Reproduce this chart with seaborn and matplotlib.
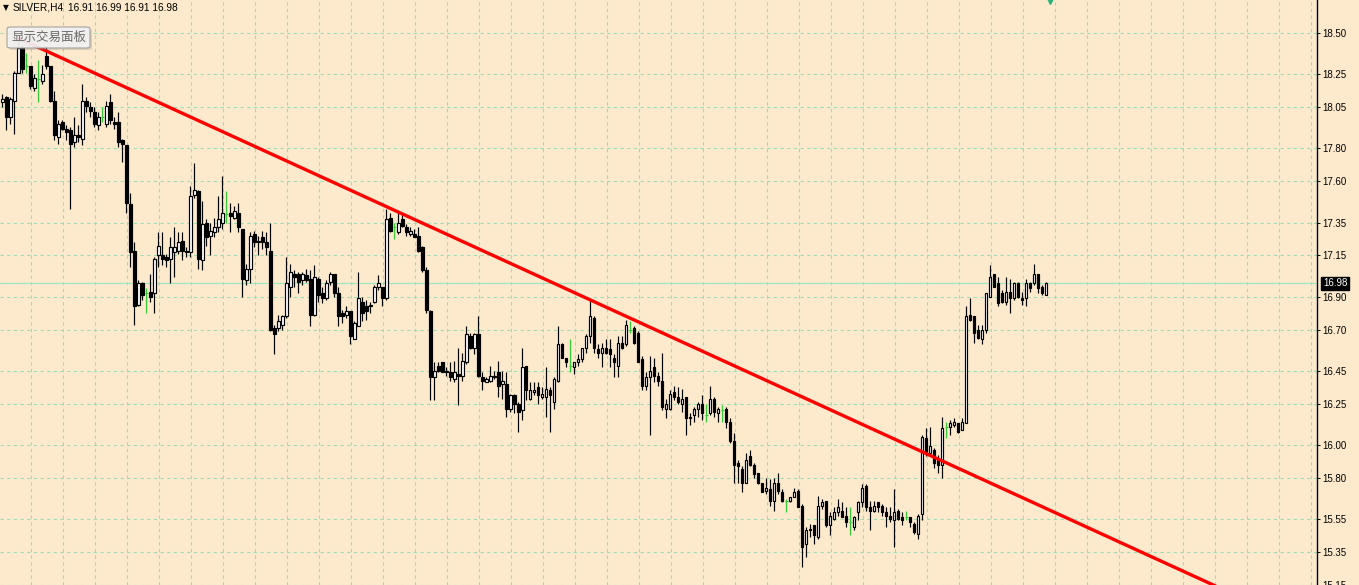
import numpy as np
import pandas as pd
import matplotlib
matplotlib.use('Agg')
import matplotlib.pyplot as plt
import seaborn as sns
from matplotlib.patches import FancyBboxPatch

# SILVER H4 candles (left to right)
opens = [18.08, 18.11, 17.99, 18.09, 18.26, 18.41, 18.30, 18.30, 18.17, 18.22,
         18.21, 18.36, 18.30, 18.09, 17.87, 17.96, 17.92, 17.91, 17.84, 17.88,
         17.86, 18.09, 18.05, 18.02, 17.94, 17.99, 17.95, 18.08, 17.96, 17.96,
         17.85, 17.82, 17.46, 17.18, 16.85, 16.98, 16.92, 16.93, 16.92, 17.15,
         17.15, 17.14, 17.13, 17.17, 17.18, 17.24, 17.18, 17.17, 17.52, 17.54,
         17.12, 17.35, 17.27, 17.29, 17.32, 17.35, 17.40, 17.41, 17.38, 17.41,
         17.31, 17.00, 17.07, 17.28, 17.23, 17.26, 17.23, 17.18, 16.71, 16.71,
         16.73, 16.78, 16.96, 17.04, 17.04, 17.00, 17.03, 17.01, 16.79, 17.01,
         16.92, 16.89, 16.99, 17.04, 16.92, 16.80, 16.79, 16.81, 16.64, 16.72,
         16.87, 16.84, 16.84, 16.87, 16.96, 16.96, 16.89, 17.38, 17.32, 17.29,
         17.37, 17.32, 17.28, 17.28, 17.27, 17.20, 17.06, 16.81, 16.41, 16.48,
         16.50, 16.44, 16.44, 16.40, 16.43, 16.42, 16.50, 16.66, 16.59, 16.67,
         16.41, 16.38, 16.39, 16.42, 16.44, 16.37, 16.37, 16.22, 16.30, 16.25,
         16.21, 16.48, 16.28, 16.32, 16.35, 16.29, 16.29, 16.33, 16.26, 16.39,
         16.61, 16.53, 16.48, 16.47, 16.50, 16.52, 16.59, 16.66, 16.77, 16.58,
         16.56, 16.59, 16.58, 16.53, 16.48, 16.62, 16.61, 16.70, 16.71, 16.68,
         16.52, 16.36, 16.41, 16.47, 16.42, 16.39, 16.22, 16.22, 16.32, 16.29,
         16.25, 16.29, 16.16, 16.18, 16.22, 16.25, 16.18, 16.19, 16.28, 16.19,
         16.21, 16.22, 16.14, 16.02, 15.89, 15.85, 15.77, 15.93, 15.88, 15.83,
         15.77, 15.72, 15.73, 15.66, 15.77, 15.71, 15.66, 15.66, 15.68, 15.72,
         15.63, 15.40, 15.48, 15.51, 15.44, 15.63, 15.66, 15.51, 15.55, 15.59,
         15.60, 15.57, 15.53, 15.50, 15.59, 15.65, 15.75, 15.62, 15.60, 15.65,
         15.63, 15.59, 15.57, 15.54, 15.60, 15.56, 15.56, 15.56, 15.52, 15.46,
         15.58, 16.04, 15.95, 15.97, 15.91, 15.88, 16.11, 16.11, 16.12, 16.13,
         16.09, 16.13, 16.79, 16.78, 16.70, 16.64, 16.70, 16.90, 17.04, 16.98,
         16.92, 16.87, 16.93, 16.89, 16.98, 16.89, 16.89, 16.98, 16.98, 17.04,
         16.96, 16.91]
highs = [18.13, 18.12, 18.11, 18.27, 18.45, 18.43, 18.38, 18.30, 18.25, 18.34,
         18.31, 18.42, 18.30, 18.15, 17.97, 17.97, 17.94, 17.93, 17.99, 17.94,
         18.19, 18.11, 18.08, 18.05, 18.02, 18.05, 18.09, 18.13, 17.99, 18.02,
         17.86, 17.82, 17.53, 17.23, 17.00, 16.99, 16.95, 17.04, 17.14, 17.29,
         17.29, 17.16, 17.26, 17.32, 17.29, 17.29, 17.20, 17.57, 17.71, 17.55,
         17.48, 17.37, 17.35, 17.38, 17.51, 17.63, 17.54, 17.47, 17.45, 17.47,
         17.31, 17.10, 17.29, 17.30, 17.27, 17.30, 17.29, 17.35, 16.73, 16.79,
         16.79, 17.14, 17.10, 17.06, 17.05, 17.05, 17.07, 17.06, 17.09, 17.02,
         16.96, 17.00, 17.05, 17.04, 16.96, 16.82, 16.84, 16.81, 16.75, 17.05,
         16.90, 16.88, 16.87, 16.97, 17.03, 16.96, 17.43, 17.41, 17.35, 17.41,
         17.40, 17.34, 17.32, 17.31, 17.32, 17.21, 17.08, 16.82, 16.50, 16.50,
         16.50, 16.47, 16.50, 16.51, 16.59, 16.56, 16.72, 16.68, 16.68, 16.78,
         16.44, 16.41, 16.48, 16.45, 16.51, 16.45, 16.44, 16.31, 16.31, 16.26,
         16.59, 16.48, 16.38, 16.38, 16.38, 16.35, 16.47, 16.35, 16.41, 16.72,
         16.62, 16.53, 16.64, 16.50, 16.55, 16.59, 16.67, 16.88, 16.78, 16.61,
         16.62, 16.64, 16.64, 16.55, 16.66, 16.66, 16.76, 16.75, 16.72, 16.69,
         16.54, 16.44, 16.54, 16.53, 16.44, 16.56, 16.28, 16.33, 16.36, 16.35,
         16.34, 16.29, 16.19, 16.23, 16.26, 16.30, 16.25, 16.36, 16.29, 16.23,
         16.24, 16.23, 16.16, 16.07, 15.91, 15.87, 15.95, 15.97, 15.89, 15.83,
         15.77, 15.80, 15.79, 15.80, 15.83, 15.73, 15.67, 15.68, 15.74, 15.73,
         15.64, 15.50, 15.52, 15.51, 15.69, 15.67, 15.66, 15.59, 15.62, 15.67,
         15.65, 15.62, 15.62, 15.57, 15.66, 15.76, 15.76, 15.66, 15.66, 15.65,
         15.64, 15.62, 15.62, 15.73, 15.61, 15.59, 15.60, 15.56, 15.53, 15.58,
         16.06, 16.10, 16.11, 15.98, 15.94, 16.17, 16.14, 16.15, 16.16, 16.13,
         16.16, 16.84, 16.89, 16.78, 16.73, 16.73, 16.92, 17.09, 17.04, 17.02,
         16.94, 17.02, 17.01, 16.99, 16.99, 16.93, 17.01, 16.99, 17.10, 17.04,
         16.97, 16.99]
lows = [18.05, 17.91, 17.95, 17.89, 18.26, 18.26, 18.26, 18.16, 18.15, 18.08,
        18.19, 18.28, 18.08, 17.85, 17.83, 17.91, 17.85, 17.43, 17.81, 17.84,
        17.82, 18.02, 17.99, 17.93, 17.91, 17.96, 17.93, 17.95, 17.92, 17.81,
        17.72, 17.41, 17.08, 16.73, 16.84, 16.88, 16.80, 16.87, 16.80, 17.08,
        17.09, 17.08, 16.98, 17.02, 17.16, 17.12, 17.14, 17.14, 17.50, 17.07,
        17.06, 17.21, 17.15, 17.26, 17.29, 17.31, 17.35, 17.29, 17.37, 17.29,
        16.90, 16.97, 16.98, 17.20, 17.15, 17.19, 17.15, 16.69, 16.55, 16.69,
        16.70, 16.77, 16.90, 16.96, 16.92, 16.97, 16.99, 16.72, 16.78, 16.87,
        16.86, 16.88, 16.97, 16.90, 16.72, 16.74, 16.77, 16.61, 16.64, 16.72,
        16.75, 16.76, 16.80, 16.86, 16.94, 16.84, 16.88, 17.29, 17.25, 17.28,
        17.32, 17.27, 17.27, 17.26, 17.17, 17.05, 16.80, 16.27, 16.27, 16.44,
        16.44, 16.42, 16.39, 16.38, 16.24, 16.39, 16.49, 16.58, 16.55, 16.41,
        16.33, 16.38, 16.38, 16.40, 16.29, 16.28, 16.17, 16.20, 16.19, 16.08,
        16.15, 16.27, 16.27, 16.30, 16.25, 16.28, 16.17, 16.08, 16.22, 16.38,
        16.53, 16.47, 16.44, 16.43, 16.48, 16.50, 16.56, 16.62, 16.56, 16.53,
        16.47, 16.55, 16.47, 16.41, 16.41, 16.58, 16.60, 16.68, 16.61, 16.50,
        16.33, 16.33, 16.06, 16.38, 16.36, 16.21, 16.16, 16.21, 16.27, 16.25,
        16.20, 16.06, 16.12, 16.14, 16.17, 16.15, 16.14, 16.18, 16.17, 16.14,
        16.14, 16.10, 16.01, 15.77, 15.77, 15.71, 15.77, 15.87, 15.80, 15.76,
        15.71, 15.70, 15.63, 15.60, 15.70, 15.65, 15.59, 15.65, 15.68, 15.62,
        15.26, 15.32, 15.44, 15.40, 15.43, 15.61, 15.50, 15.45, 15.54, 15.57,
        15.56, 15.50, 15.45, 15.48, 15.54, 15.62, 15.60, 15.48, 15.59, 15.59,
        15.57, 15.50, 15.53, 15.38, 15.54, 15.51, 15.54, 15.50, 15.46, 15.43,
        15.54, 15.93, 15.93, 15.86, 15.83, 15.80, 16.04, 16.06, 16.11, 16.07,
        16.09, 16.13, 16.75, 16.62, 16.64, 16.61, 16.68, 16.90, 16.96, 16.84,
        16.86, 16.85, 16.80, 16.88, 16.89, 16.85, 16.84, 16.93, 16.97, 16.92,
        16.91, 16.91]
closes = [18.10, 17.99, 18.10, 18.26, 18.41, 18.28, 18.30, 18.18, 18.23, 18.22,
          18.25, 18.30, 18.09, 17.88, 17.95, 17.92, 17.90, 17.83, 17.88, 17.87,
          18.09, 18.06, 18.03, 17.95, 17.99, 17.99, 18.06, 17.97, 17.95, 17.84,
          17.83, 17.47, 17.17, 16.84, 16.98, 16.91, 16.92, 16.90, 17.13, 17.21,
          17.13, 17.12, 17.20, 17.20, 17.23, 17.18, 17.17, 17.51, 17.55, 17.13,
          17.34, 17.26, 17.30, 17.32, 17.37, 17.41, 17.40, 17.39, 17.42, 17.32,
          17.01, 17.07, 17.27, 17.23, 17.24, 17.23, 17.20, 16.70, 16.67, 16.75,
          16.78, 16.98, 17.05, 17.02, 16.99, 17.04, 17.00, 16.79, 17.02, 16.91,
          16.89, 16.98, 17.04, 16.92, 16.78, 16.78, 16.81, 16.66, 16.74, 16.89,
          16.80, 16.81, 16.85, 16.96, 16.98, 16.89, 17.37, 17.30, 17.32, 17.35,
          17.33, 17.29, 17.30, 17.26, 17.18, 17.06, 16.82, 16.41, 16.45, 16.45,
          16.44, 16.45, 16.41, 16.44, 16.42, 16.51, 16.67, 16.59, 16.67, 16.42,
          16.39, 16.40, 16.42, 16.41, 16.36, 16.39, 16.22, 16.30, 16.25, 16.20,
          16.47, 16.33, 16.33, 16.33, 16.30, 16.31, 16.34, 16.30, 16.40, 16.61,
          16.53, 16.50, 16.48, 16.50, 16.52, 16.59, 16.66, 16.78, 16.59, 16.56,
          16.59, 16.56, 16.55, 16.50, 16.62, 16.59, 16.73, 16.70, 16.62, 16.50,
          16.36, 16.41, 16.45, 16.42, 16.39, 16.23, 16.25, 16.31, 16.29, 16.26,
          16.28, 16.16, 16.17, 16.22, 16.25, 16.19, 16.18, 16.28, 16.20, 16.22,
          16.21, 16.14, 16.02, 15.88, 15.87, 15.77, 15.91, 15.88, 15.82, 15.77,
          15.71, 15.74, 15.66, 15.77, 15.72, 15.66, 15.66, 15.68, 15.71, 15.62,
          15.38, 15.48, 15.49, 15.45, 15.63, 15.65, 15.51, 15.57, 15.59, 15.62,
          15.56, 15.53, 15.53, 15.56, 15.65, 15.74, 15.62, 15.60, 15.63, 15.62,
          15.59, 15.57, 15.55, 15.59, 15.55, 15.54, 15.56, 15.53, 15.47, 15.57,
          16.05, 15.95, 15.99, 15.89, 15.88, 16.10, 16.11, 16.13, 16.14, 16.08,
          16.14, 16.78, 16.76, 16.68, 16.65, 16.70, 16.92, 17.02, 16.96, 16.86,
          16.87, 16.93, 16.89, 16.98, 16.90, 16.88, 16.98, 16.95, 17.04, 16.95,
          16.92, 16.98]

price_ticks = [18.50, 18.25, 18.05, 17.80, 17.60, 17.35, 17.15, 16.90,
               16.70, 16.45, 16.25, 16.00, 15.80, 15.55, 15.35, 15.15]
bid = 16.98

# trend line anchors (bar index, price); drawn as a ray to the right
trend_bars = [4, 147]
trend_prices = [18.47, 16.88]

symbol = 'SILVER,H4'
panel_label = '显示交易面板'

df = pd.DataFrame({'o': opens, 'h': highs, 'l': lows, 'c': closes})
df['i'] = np.arange(len(df))
up = df[df.c > df.o]
dn = df[df.c < df.o]
dj = df[df.c == df.o]

bg = '#FDEACD'
grid_c = '#9EDDB3'

sns.set_theme(style='white')
plt.rcParams['font.family'] = ['Liberation Sans', 'DejaVu Sans']

W, H = 1359, 585
fig = plt.figure(figsize=(W / 100, H / 100), dpi=100, facecolor=bg)
ax = fig.add_axes([0, 0, 1317 / W, 1])
ax.set_facecolor(bg)

# grid
for t in price_ticks:
    ax.axhline(t, color=grid_c, lw=0.8, ls=(0, (3, 3)), zorder=0)
for xg in np.arange(7.1, 329, 8):
    ax.axvline(xg, color=grid_c, lw=0.8, ls=(0, (3, 3)), zorder=0)
ax.axhline(bid, color='#9FE6C0', lw=0.9, zorder=0.5)

# candles
lw = 0.85
ax.vlines(up.i, up.l, up.h, color='black', lw=lw, zorder=2)
ax.vlines(dn.i, dn.l, dn.h, color='black', lw=lw, zorder=2)
ax.bar(up.i, up.c - up.o, bottom=up.o, width=0.62, color='white',
       edgecolor='black', linewidth=lw, zorder=3)
ax.bar(dn.i, dn.o - dn.c, bottom=dn.c, width=0.62, color='black',
       edgecolor='black', linewidth=lw, zorder=3)
ax.vlines(dj.i, dj.l, dj.h, color='#32CD32', lw=lw, zorder=2)
ax.hlines(dj.o, dj.i - 0.35, dj.i + 0.35, color='#32CD32', lw=lw, zorder=2)

# trend line
slope = (trend_prices[1] - trend_prices[0]) / (trend_bars[1] - trend_bars[0])
x_end = 335
sns.lineplot(x=[trend_bars[0], x_end],
             y=[trend_prices[0], trend_prices[0] + slope * (x_end - trend_bars[0])],
             color='#FF0000', linewidth=2.4, ax=ax, zorder=4)

# small object marker at the top edge
ax.plot(261.9, 18.70, marker='v', ms=6, color='#2DB37A', zorder=5)

ax.set_xlim(-0.575, 328.7)
ax.set_ylim(15.148, 18.702)
ax.set_xticks([])
ax.yaxis.tick_right()
ax.set_yticks(price_ticks)
ax.set_yticklabels([f'{t:.2f}' for t in price_ticks])
ax.tick_params(axis='y', direction='out', length=2.2, width=0.7, pad=1.5,
               labelsize=7, colors='black', right=True, left=False)
for s in ['top', 'left', 'bottom']:
    ax.spines[s].set_visible(False)
ax.spines['right'].set_color('black')
ax.spines['right'].set_linewidth(1)

ax.annotate(f'{bid:.2f}', xy=(1, bid), xycoords=('axes fraction', 'data'),
            xytext=(6, 0), textcoords='offset pixels', ha='left', va='center',
            color='white', fontsize=7,
            bbox=dict(boxstyle='square,pad=0.2', fc='black', ec='black'),
            zorder=6)

# header text
hy = 1 - 8 / H
fig.text(3 / W, hy, '▼', fontsize=5.5, va='center', ha='left', color='black',
         family=['DejaVu Sans'])
fig.text(13 / W, hy, symbol, fontsize=7.3, va='center', ha='left', color='black')
fig.text(68 / W, hy, f'{opens[-1]:.2f} {highs[-1]:.2f} {lows[-1]:.2f} {closes[-1]:.2f}',
         fontsize=7.3, va='center', ha='left', color='black')

# trade panel button
shadow = FancyBboxPatch((9 / W, 1 - 50 / H), 83 / W, 21 / H,
                        boxstyle='round,pad=0,rounding_size=0.003',
                        transform=fig.transFigure, fc='#808080', ec='none',
                        alpha=0.25, zorder=9)
fig.add_artist(shadow)
btn = FancyBboxPatch((7 / W, 1 - 48 / H), 83 / W, 21 / H,
                     boxstyle='round,pad=0,rounding_size=0.003',
                     transform=fig.transFigure, fc='#F2F2F2', ec='#9C9C9C',
                     lw=0.8, alpha=0.92, zorder=10)
fig.add_artist(btn)
fig.text(48.5 / W, 1 - 37.5 / H, panel_label, ha='center', va='center',
         fontsize=9, color='#6A6A6A', zorder=11,
         family=['Noto Sans CJK SC', 'DejaVu Sans'])

fig.savefig('out.png', dpi=100, facecolor=bg)
